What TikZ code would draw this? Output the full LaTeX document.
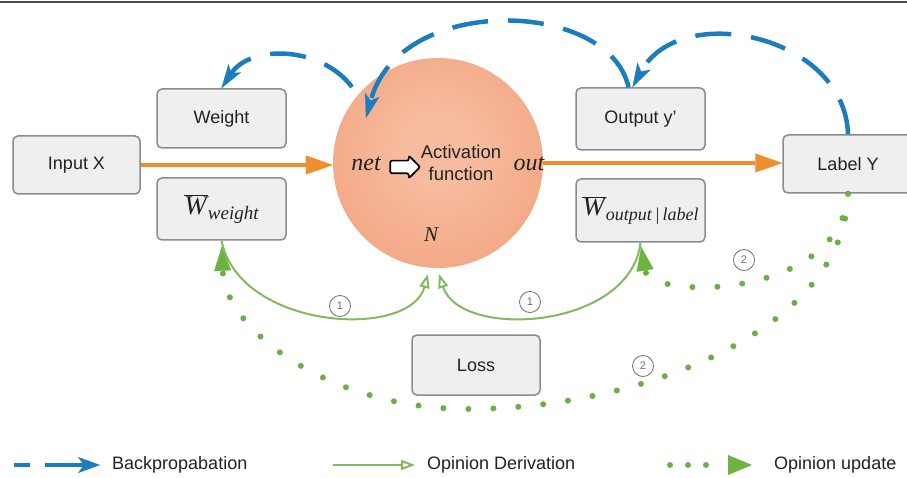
\documentclass[tikz,border=0pt]{standalone}
\usepackage{fontspec}
\setmainfont{Liberation Sans}
\newfontfamily\tnr{Liberation Serif}
\usetikzlibrary{arrows.meta,shapes.arrows}
\definecolor{boxfill}{HTML}{EFEFEF}
\definecolor{boxline}{HTML}{8C8C8C}
\definecolor{orarrow}{HTML}{EF8E2C}
\definecolor{bpblue}{HTML}{1C7DBE}
\definecolor{gline}{HTML}{85B95E}
\definecolor{gdot}{HTML}{6EAE48}
\definecolor{ghead}{HTML}{6DB33F}
\definecolor{ballin}{HTML}{F7BC9F}
\definecolor{ballmid}{HTML}{F3A27E}
\definecolor{ballout}{HTML}{EE8A5E}
\definecolor{numgray}{HTML}{707070}
\definecolor{txt}{HTML}{222222}
\pgfdeclareradialshading[ballin,ballmid,ballout]{ballshade}{\pgfpoint{0bp}{4bp}}{color(0bp)=(ballin); color(8bp)=(ballin); color(34bp)=(ballmid); color(50bp)=(ballout); color(51bp)=(ballout)}
\begin{document}
\begin{tikzpicture}[x=1pt,y=-1pt,
  box/.style={draw=boxline, fill=boxfill, line width=1.5pt, rounded corners=5pt, inner sep=0pt, font=\fontsize{18}{21}\selectfont, text=txt},
  oarr/.style={draw=orarrow, line width=4.5pt, -{Triangle[length=27pt,width=19pt,line width=0.1pt]}},
  bp/.style={draw=bpblue, line width=4.5pt, dash pattern=on 36pt off 20pt, -{Stealth[length=24pt,width=15pt,inset=6pt,line width=0.1pt]}},
  od/.style={draw=gline, line width=2pt, -{Triangle[open,fill=white,length=14pt,width=10pt]}},
  ou/.style={draw=gdot, line width=6pt, line cap=round, dash pattern=on 0pt off 25pt, -{Triangle[length=24pt,width=17pt,line width=0.1pt,color=ghead,fill=ghead]}},
  numc/.style={circle, draw=numgray, line width=0.8pt, minimum size=21pt, inner sep=0pt, font=\fontsize{11}{11}\selectfont, text=numgray},
  mathit/.style={font=\tnr\itshape\fontsize{24}{24}\selectfont, text=txt, inner sep=0pt},
  legtext/.style={font=\fontsize{18}{20}\selectfont, text=txt, anchor=west, inner sep=0pt}
]
\useasboundingbox (0,0) rectangle (907,478);
\fill[white] (0,0) rectangle (907,478);
% top rule
\coordinate (tl1) at (0,2);
\coordinate (tl2) at (907,2);
\draw[line width=2pt, draw=black!70] (tl1) -- (tl2);

% boxes
\node[box, minimum width=127pt, minimum height=58pt] (inputx) at (76.5,165) {Input X};
\node[box, minimum width=129pt, minimum height=59pt] (weight) at (221.5,118.5) {Weight};
\node[box, minimum width=129pt, minimum height=62pt] (ww) at (221.5,209) {{\fontsize{27}{27}\selectfont$\overline{\mbox{\tnr\itshape W\kern1pt}}$}\raisebox{-5pt}{\fontsize{19}{19}\selectfont\tnr\itshape weight}};
\node[box, minimum width=129pt, minimum height=62pt] (outy) at (640.5,119) {Output y'};
\node[box, minimum width=129pt, minimum height=63pt] (wo) at (640.5,210.5) {{\fontsize{27}{27}\selectfont$\overline{\mbox{\tnr\itshape W\kern1pt}}$}\raisebox{-5pt}{\fontsize{18}{18}\selectfont\tnr\itshape output\,|\,label}};
\node[box, minimum width=130pt, minimum height=58pt] (labely) at (848,164) {Label Y};
\node[box, minimum width=128pt, minimum height=60pt] (loss) at (476,365) {Loss};

% neuron
\node[circle, minimum size=210pt, inner sep=0pt, shading=ballshade] (circ) at (438,163) {};
\node[mathit, anchor=base] (net) at (366,171) {net};
\node[mathit, anchor=base] (out) at (529,171) {out};
\node[mathit, font=\tnr\itshape\fontsize{21}{21}\selectfont, anchor=base] (nn) at (431,242) {N};
\node[single arrow, draw=black, fill=white, line width=1.7pt, minimum height=30pt, minimum width=21pt, inner xsep=2pt, inner ysep=5.5pt, single arrow head extend=5pt, rounded corners=2pt] (barrow) at (402,167) {};
\node[align=center, font=\fontsize{18.5}{22}\selectfont, text=txt, inner sep=0pt] (act) at (461,163) {Activation\\function};

% forward arrows
\draw[oarr] (inputx.east) -- (inputx.east -| circ.west);
\draw[oarr] (circ.east) -- (circ.east -| labely.west);

% backpropagation
\coordinate (b1s) at (352,87);
\coordinate (b2e) at (366,118);
\draw[bp] (b1s) .. controls (320,45) and (250,45) .. (weight.north);
\draw[bp] ([xshift=-12pt]outy.north) .. controls (610,0) and (400,-8) .. (b2e);
\draw[bp] (labely.north) .. controls (845,35) and (680,0) .. ([xshift=-8pt]outy.north);

% opinion derivation
\coordinate (dl) at (428,274);
\coordinate (dr) at (439,274);
\draw[od] (ww.south) .. controls (240,330) and (410,340) .. (dl);
\draw[od] (wo.south) .. controls (630,330) and (460,340) .. (dr);

% opinion update
\draw[ou, shorten >=4pt] (labely.south) .. controls (840,300) and (650,300) .. (wo.south);
\draw[ou, shorten >=6pt] (labely.south) .. controls (845,330) and (640,409) .. (468,409) .. controls (330,409) and (225,330) .. (ww.south);

% step numbers
\node[numc] (n1a) at (340,306) {1};
\node[numc] (n1b) at (530,302) {1};
\node[numc] (n2a) at (744,260) {2};
\node[numc] (n2b) at (643,366) {2};

% legend
\coordinate (l1a) at (14,465);
\coordinate (l1b) at (30,465);
\coordinate (l2a) at (45,465);
\coordinate (l2b) at (100,465);
\draw[draw=bpblue, line width=4.5pt] (l1a) -- (l1b);
\draw[draw=bpblue, line width=4.5pt, -{Stealth[length=22pt,width=16pt,inset=6pt,line width=0.1pt]}] (l2a) -- (l2b);
\node[legtext] (lt1) at (112,465) {Backpropabation};
\coordinate (l3a) at (333,465);
\coordinate (l3b) at (415,465);
\draw[od] (l3a) -- (l3b);
\node[legtext] (lt2) at (427,465) {Opinion Derivation};
\coordinate (l4a) at (670,465);
\coordinate (l4b) at (707,465);
\draw[draw=gdot, line width=6pt, line cap=round, dash pattern=on 0pt off 18pt] (l4a) -- (l4b);
\fill[ghead] (728,455) -- (752,465) -- (728,475) -- cycle;
\node[legtext] (lt3) at (774,465) {Opinion update};
\end{tikzpicture}
\end{document}
